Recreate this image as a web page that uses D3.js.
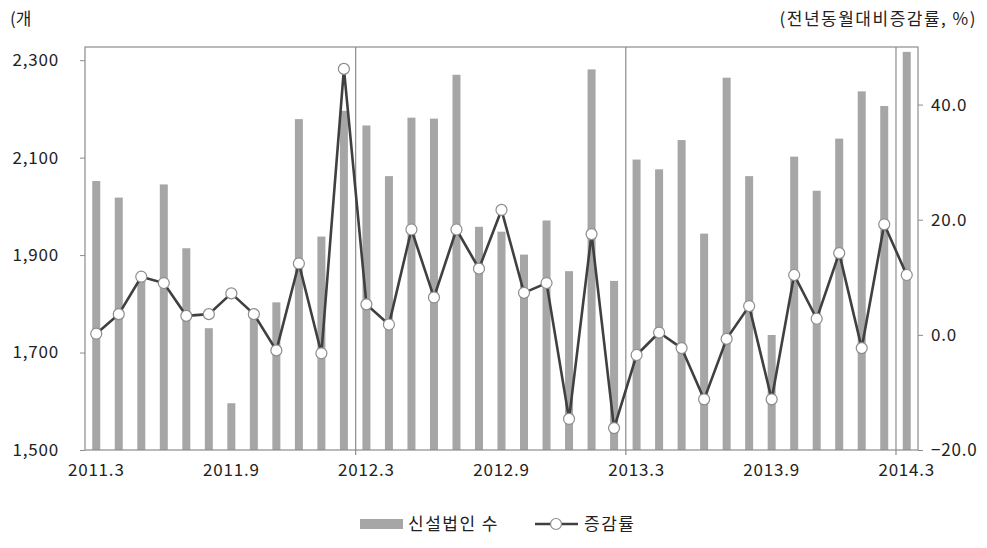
<!DOCTYPE html>
<html>
<head>
<meta charset="utf-8">
<script src="https://cdn.jsdelivr.net/npm/d3@7"></script>
<style>
  body { margin: 0; background: #fff; }
  text { font-family: "Noto Sans CJK KR", "Noto Sans", sans-serif; fill: #222; }
</style>
</head>
<body>
<div id="chart"></div>
<script>
// monthly labels 2011.3 ~ 2014.3
const months = [];
for (let y = 2011, m = 3; !(y === 2014 && m === 4); ) {
  months.push(y + "." + m);
  m++; if (m > 12) { m = 1; y++; }
}

// 신설법인 수 (개)
const firms = [2052, 2018, 1855, 2045, 1914, 1750, 1596, 1771, 1803, 2179, 1938, 2196,
               2166, 2062, 2182, 2180, 2270, 1958, 1948, 1901, 1971, 1867, 2281, 1847,
               2096, 2076, 2136, 1944, 2264, 2062, 1736, 2102, 2032, 2139, 2236, 2206,
               2317];

// 증감률 (전년동월대비, %)
const rate = [0.2, 3.6, 10.1, 9.0, 3.3, 3.6, 7.2, 3.6, -2.7, 12.4, -3.2, 46.2,
              5.3, 1.8, 18.3, 6.5, 18.3, 11.5, 21.7, 7.3, 9.0, -14.6, 17.5, -16.2,
              -3.5, 0.4, -2.3, -11.2, -0.7, 5.0, -11.2, 10.4, 2.8, 14.2, -2.3, 19.2,
              10.4];

const leftTicks = [1500, 1700, 1900, 2100, 2300];
const rightTicks = [-20, 0, 20, 40];
const xLabels = ["2011.3", "2011.9", "2012.3", "2012.9", "2013.3", "2013.9", "2014.3"];
const yearStarts = ["2012.3", "2013.3", "2014.3"];

const svgWidth = 987, svgHeight = 548;
const margin = {top: 47, right: 69, bottom: 98, left: 85};
const width = svgWidth - margin.left - margin.right;
const height = svgHeight - margin.top - margin.bottom;

const svg = d3.select("#chart")
  .append("svg")
  .attr("width", svgWidth)
  .attr("height", svgHeight);

const chartGroup = svg.append("g")
  .attr("transform", `translate(${margin.left}, ${margin.top})`);

const x = d3.scaleBand().domain(months).range([0, width]).padding(0);
const yLeft = d3.scaleLinear().domain([1500, 2327]).range([height, 0]);
const yRight = d3.scaleLinear().domain([-20, 50]).range([height, 0]);

const frameColor = "#8c8c8c";
const fs = 17, ls = 0.8;

// bars
const barW = 8;
chartGroup.selectAll("rect.bar")
  .data(firms)
  .enter()
  .append("rect")
  .attr("class", "bar")
  .attr("x", (d, i) => x(months[i]) + x.bandwidth() / 2 - barW / 2)
  .attr("y", d => yLeft(d))
  .attr("width", barW)
  .attr("height", d => height - yLeft(d))
  .attr("fill", "#a6a6a6");

// year separator lines
chartGroup.selectAll("line.sep")
  .data(yearStarts)
  .enter()
  .append("line")
  .attr("x1", d => x(d) + 0.5)
  .attr("x2", d => x(d) + 0.5)
  .attr("y1", 0)
  .attr("y2", height + 5)
  .attr("stroke", frameColor)
  .attr("stroke-width", 1.2);

// frame
chartGroup.append("rect")
  .attr("x", 0).attr("y", 0)
  .attr("width", width).attr("height", height)
  .attr("fill", "none")
  .attr("stroke", frameColor)
  .attr("stroke-width", 1.2);

// left axis
const leftAxis = d3.axisLeft(yLeft).tickValues(leftTicks).tickSize(5).tickFormat(d3.format(","));
const gl = chartGroup.append("g").call(leftAxis);
gl.select(".domain").remove();
gl.selectAll("line").attr("stroke", frameColor);
gl.selectAll("text").attr("x", -26).attr("font-size", fs).attr("letter-spacing", ls).style("fill", "#222");

// right axis
const rightAxis = d3.axisRight(yRight).tickValues(rightTicks).tickSize(5).tickFormat(d3.format(".1f"));
const gr = chartGroup.append("g").attr("transform", `translate(${width}, 0)`).call(rightAxis);
gr.select(".domain").remove();
gr.selectAll("line").attr("stroke", frameColor);
gr.selectAll("text").attr("x", 13).attr("font-size", fs).attr("letter-spacing", ls).style("fill", "#222");

// x labels
const bottomAxis = d3.axisBottom(x).tickValues(xLabels).tickSize(0);
const gx = chartGroup.append("g").attr("transform", `translate(0, ${height})`).call(bottomAxis);
gx.select(".domain").remove();
gx.selectAll("text").attr("y", 14).attr("font-size", fs).attr("letter-spacing", ls).style("fill", "#222");

// rate line
const cx = (d, i) => x(months[i]) + x.bandwidth() / 2;
const line = d3.line().x(cx).y(d => yRight(d));
chartGroup.append("path")
  .datum(rate)
  .attr("d", line)
  .attr("fill", "none")
  .attr("stroke", "#404040")
  .attr("stroke-width", 2.6);

chartGroup.selectAll("circle.pt")
  .data(rate)
  .enter()
  .append("circle")
  .attr("cx", cx)
  .attr("cy", d => yRight(d))
  .attr("r", 5.5)
  .attr("fill", "#fff")
  .attr("stroke", "#8c8c8c")
  .attr("stroke-width", 1.2);

// unit labels
svg.append("text").attr("x", 10).attr("y", 25).attr("font-size", fs).text("(개");
svg.append("text").attr("x", 977).attr("y", 25).attr("font-size", fs).attr("letter-spacing", 1.5)
  .attr("text-anchor", "end").text("(전년동월대비증감률,  %)");

// legend
const legend = svg.append("g").attr("transform", "translate(0, 524)");
legend.append("rect").attr("x", 360).attr("y", -5).attr("width", 43).attr("height", 10).attr("fill", "#a6a6a6");
legend.append("text").attr("x", 408).attr("y", 6).attr("font-size", fs).attr("letter-spacing", 1.5).text("신설법인 수");
legend.append("line").attr("x1", 535).attr("x2", 578).attr("y1", 0).attr("y2", 0)
  .attr("stroke", "#404040").attr("stroke-width", 2.6);
legend.append("circle").attr("cx", 556).attr("cy", 0).attr("r", 5.5)
  .attr("fill", "#fff").attr("stroke", "#8c8c8c").attr("stroke-width", 1.2);
legend.append("text").attr("x", 584).attr("y", 6).attr("font-size", fs).attr("letter-spacing", 1.5).text("증감률");
</script>
</body>
</html>
